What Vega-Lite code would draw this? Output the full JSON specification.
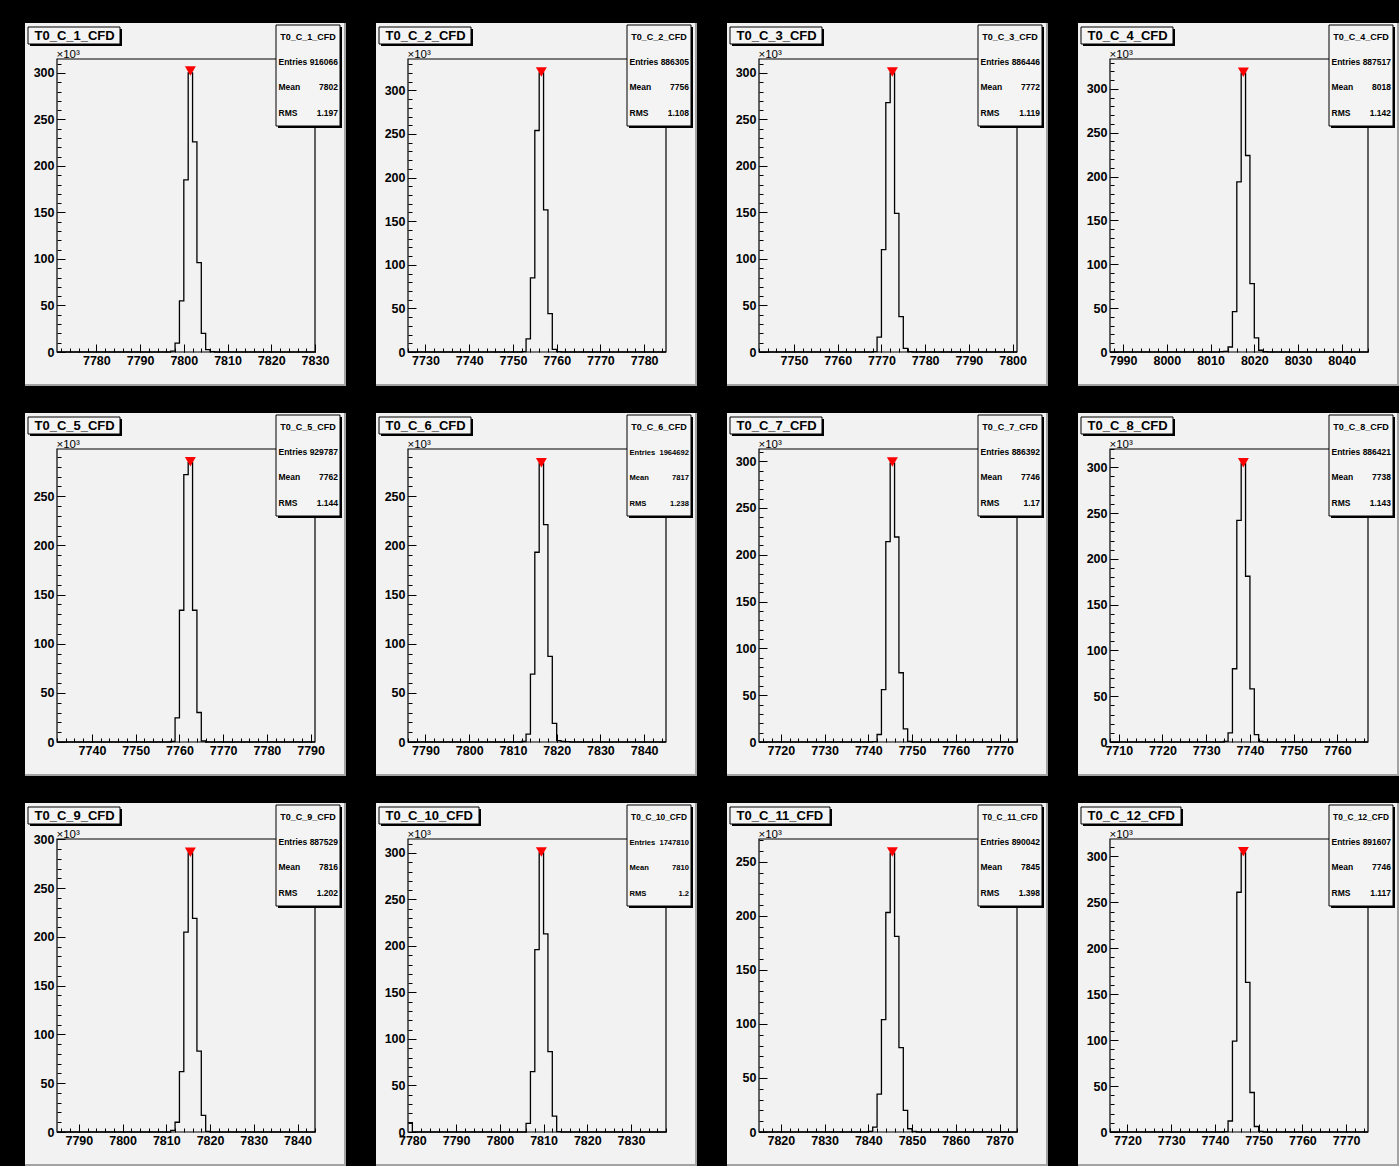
{
"$schema": "https://vega.github.io/schema/vega-lite/v6.json",
"background": "black",
"padding": {"left": 24, "top": 22, "right": 0, "bottom": 0},
"datasets": {
"s1": [{"name": "T0_C_1_CFD", "entries": "916066", "mean": "7802", "rms": "1.197", "px": 7801.5, "py": 302}],
"s2": [{"name": "T0_C_2_CFD", "entries": "886305", "mean": "7756", "rms": "1.108", "px": 7756.5, "py": 321}],
"s3": [{"name": "T0_C_3_CFD", "entries": "886446", "mean": "7772", "rms": "1.119", "px": 7772.5, "py": 301}],
"s4": [{"name": "T0_C_4_CFD", "entries": "887517", "mean": "8018", "rms": "1.142", "px": 8017.5, "py": 319}],
"s5": [{"name": "T0_C_5_CFD", "entries": "929787", "mean": "7762", "rms": "1.144", "px": 7762.5, "py": 285}],
"s6": [{"name": "T0_C_6_CFD", "entries": "1964692", "mean": "7817", "rms": "1.238", "px": 7816.5, "py": 284}],
"s7": [{"name": "T0_C_7_CFD", "entries": "886392", "mean": "7746", "rms": "1.17", "px": 7745.5, "py": 299}],
"s8": [{"name": "T0_C_8_CFD", "entries": "886421", "mean": "7738", "rms": "1.143", "px": 7738.5, "py": 305}],
"s9": [{"name": "T0_C_9_CFD", "entries": "887529", "mean": "7816", "rms": "1.202", "px": 7815.5, "py": 287}],
"s10": [{"name": "T0_C_10_CFD", "entries": "1747810", "mean": "7810", "rms": "1.2", "px": 7809.5, "py": 301}],
"s11": [{"name": "T0_C_11_CFD", "entries": "890042", "mean": "7845", "rms": "1.398", "px": 7845.5, "py": 259}],
"s12": [{"name": "T0_C_12_CFD", "entries": "891607", "mean": "7746", "rms": "1.117", "px": 7746.5, "py": 305}],
"b1": [{"x": 7771, "c": 0}, {"x": 7797, "c": 1}, {"x": 7798, "c": 9.6}, {"x": 7799, "c": 55}, {"x": 7800, "c": 185}, {"x": 7801, "c": 300}, {"x": 7802, "c": 226}, {"x": 7803, "c": 96}, {"x": 7804, "c": 20}, {"x": 7805, "c": 2.5}, {"x": 7806, "c": 0.5}, {"x": 7807, "c": 0}, {"x": 7830, "c": 0}],
"b2": [{"x": 7726, "c": 0}, {"x": 7752, "c": 0.5}, {"x": 7753, "c": 15}, {"x": 7754, "c": 85}, {"x": 7755, "c": 254}, {"x": 7756, "c": 320}, {"x": 7757, "c": 163}, {"x": 7758, "c": 44}, {"x": 7759, "c": 3}, {"x": 7760, "c": 0.5}, {"x": 7761, "c": 0}, {"x": 7785, "c": 0}],
"b3": [{"x": 7742, "c": 0}, {"x": 7768, "c": 0.5}, {"x": 7769, "c": 16}, {"x": 7770, "c": 110}, {"x": 7771, "c": 268}, {"x": 7772, "c": 300}, {"x": 7773, "c": 149}, {"x": 7774, "c": 38}, {"x": 7775, "c": 4}, {"x": 7776, "c": 0.5}, {"x": 7777, "c": 0}, {"x": 7801, "c": 0}],
"b4": [{"x": 7987, "c": 0}, {"x": 8012, "c": 0.5}, {"x": 8013, "c": 0.7}, {"x": 8014, "c": 5.7}, {"x": 8015, "c": 46}, {"x": 8016, "c": 194}, {"x": 8017, "c": 318}, {"x": 8018, "c": 224}, {"x": 8019, "c": 78}, {"x": 8020, "c": 16}, {"x": 8021, "c": 2}, {"x": 8022, "c": 0.3}, {"x": 8023, "c": 0}, {"x": 8046, "c": 0}],
"b5": [{"x": 7732, "c": 0}, {"x": 7758, "c": 0.5}, {"x": 7759, "c": 24.5}, {"x": 7760, "c": 134}, {"x": 7761, "c": 272}, {"x": 7762, "c": 284}, {"x": 7763, "c": 134}, {"x": 7764, "c": 30}, {"x": 7765, "c": 1}, {"x": 7766, "c": 0}, {"x": 7791, "c": 0}],
"b6": [{"x": 7786, "c": 0}, {"x": 7812, "c": 0.5}, {"x": 7813, "c": 8}, {"x": 7814, "c": 69}, {"x": 7815, "c": 193}, {"x": 7816, "c": 283}, {"x": 7817, "c": 221}, {"x": 7818, "c": 87}, {"x": 7819, "c": 19}, {"x": 7820, "c": 1.4}, {"x": 7821, "c": 0.5}, {"x": 7822, "c": 0.3}, {"x": 7823, "c": 0}, {"x": 7845, "c": 0}],
"b7": [{"x": 7715, "c": 0}, {"x": 7741, "c": 0.5}, {"x": 7742, "c": 8}, {"x": 7743, "c": 56}, {"x": 7744, "c": 214}, {"x": 7745, "c": 298}, {"x": 7746, "c": 219}, {"x": 7747, "c": 74}, {"x": 7748, "c": 14}, {"x": 7749, "c": 0.7}, {"x": 7750, "c": 0}, {"x": 7774, "c": 0}],
"b8": [{"x": 7708, "c": 0}, {"x": 7734, "c": 0.7}, {"x": 7735, "c": 10}, {"x": 7736, "c": 80}, {"x": 7737, "c": 242}, {"x": 7738, "c": 304}, {"x": 7739, "c": 181}, {"x": 7740, "c": 58}, {"x": 7741, "c": 8}, {"x": 7742, "c": 0.7}, {"x": 7743, "c": 0}, {"x": 7767, "c": 0}],
"b9": [{"x": 7785, "c": 0}, {"x": 7811, "c": 1.7}, {"x": 7812, "c": 10}, {"x": 7813, "c": 62}, {"x": 7814, "c": 205}, {"x": 7815, "c": 286}, {"x": 7816, "c": 219}, {"x": 7817, "c": 83}, {"x": 7818, "c": 17}, {"x": 7819, "c": 0.7}, {"x": 7820, "c": 0}, {"x": 7844, "c": 0}],
"b10": [{"x": 7779, "c": 10}, {"x": 7780, "c": 0}, {"x": 7806, "c": 9.3}, {"x": 7807, "c": 65}, {"x": 7808, "c": 196}, {"x": 7809, "c": 300}, {"x": 7810, "c": 213}, {"x": 7811, "c": 86.5}, {"x": 7812, "c": 17}, {"x": 7813, "c": 0.5}, {"x": 7814, "c": 0}, {"x": 7838, "c": 0}],
"b11": [{"x": 7815, "c": 0}, {"x": 7840, "c": 0.5}, {"x": 7841, "c": 4.6}, {"x": 7842, "c": 35}, {"x": 7843, "c": 104}, {"x": 7844, "c": 203}, {"x": 7845, "c": 258}, {"x": 7846, "c": 181}, {"x": 7847, "c": 78}, {"x": 7848, "c": 20}, {"x": 7849, "c": 3}, {"x": 7850, "c": 0.5}, {"x": 7851, "c": 0}, {"x": 7874, "c": 0}],
"b12": [{"x": 7716, "c": 0}, {"x": 7742, "c": 0.5}, {"x": 7743, "c": 12}, {"x": 7744, "c": 99}, {"x": 7745, "c": 261}, {"x": 7746, "c": 304}, {"x": 7747, "c": 163}, {"x": 7748, "c": 43}, {"x": 7749, "c": 6}, {"x": 7750, "c": 0.7}, {"x": 7751, "c": 0}, {"x": 7775, "c": 0}]
},
"vconcat": [
{"hconcat": [
{"width": 321, "height": 363, "view": {"fill": "#f2f2f2", "stroke": null}, "data": {"name": "s1"}, "layer": [
{"mark": {"type": "rect", "filled": false, "color": "black", "strokeWidth": 1.2}, "encoding": {"x": {"datum": 7771, "type": "quantitative", "scale": {"domain": [7771, 7830], "range": [32, 290], "nice": false, "zero": false}, "axis": {"orient": "bottom", "offset": -34, "labels": false, "domain": false, "tickSize": -8, "tickCount": 6, "title": null}}, "x2": {"datum": 7830}, "y": {"datum": 0, "type": "quantitative", "scale": {"domain": [0, 315], "range": [329, 36], "nice": false, "zero": false}, "axis": {"orient": "left", "offset": -32, "labels": false, "domain": false, "tickSize": -8, "tickCount": 6, "title": null}}, "y2": {"datum": 315}}},
{"data": {"name": "b1"}, "mark": {"type": "line", "interpolate": "step-after", "color": "black", "strokeWidth": 1.3}, "encoding": {"x": {"field": "x", "type": "quantitative", "axis": {"orient": "bottom", "offset": -34, "labels": false, "domain": false, "tickSize": -4, "tickCount": 30, "title": null}}, "y": {"field": "c", "type": "quantitative", "axis": {"orient": "left", "offset": -32, "labels": false, "domain": false, "tickSize": -4, "tickCount": 30, "title": null}}}},
{"mark": {"type": "point", "shape": "triangle-down", "filled": true, "color": "#ff0000", "opacity": 1, "size": 120}, "encoding": {"x": {"field": "px", "type": "quantitative", "axis": {"orient": "bottom", "offset": -34, "ticks": false, "domain": false, "labelPadding": 2, "tickCount": 6, "format": "d", "title": null}}, "y": {"field": "py", "type": "quantitative", "axis": {"orient": "left", "offset": -32, "ticks": false, "domain": false, "labelPadding": 3, "tickCount": 6, "format": "d", "title": "×10³", "titleAngle": 0, "titleAlign": "left", "titleBaseline": "alphabetic", "titleX": -1, "titleY": 34}}}},
{"mark": {"type": "rect", "x": 5, "x2": 97, "y": 6, "y2": 23, "color": "black"}},
{"mark": {"type": "rect", "x": 3, "x2": 95, "y": 4, "y2": 21, "fill": "#f4f4f4", "stroke": "black", "strokeWidth": 1}},
{"mark": {"type": "text", "x": 9.5, "y": 16.5, "style": "ttl"}, "encoding": {"text": {"field": "name"}}},
{"mark": {"type": "rect", "x": 253, "x2": 317, "y": 4, "y2": 105, "color": "black"}},
{"mark": {"type": "rect", "x": 251, "x2": 315, "y": 2, "y2": 103, "fill": "#f4f4f4", "stroke": "black", "strokeWidth": 1}},
{"mark": {"type": "rule", "x": 251, "x2": 315, "y": 27, "y2": 27, "color": "black", "strokeWidth": 1}, "encoding": {}},
{"mark": {"type": "text", "x": 283, "y": 16.5, "style": "sth"}, "encoding": {"text": {"field": "name"}}},
{"mark": {"type": "text", "x": 253.5, "y": 42, "style": "stl", "text": ["Entries", "Mean", "RMS"]}},
{"mark": {"type": "text", "x": 313, "y": 42, "style": "stv"}, "encoding": {"text": {"field": "entries"}}},
{"mark": {"type": "text", "x": 313, "y": 67.3, "style": "stv"}, "encoding": {"text": {"field": "mean"}}},
{"mark": {"type": "text", "x": 313, "y": 92.6, "style": "stv"}, "encoding": {"text": {"field": "rms"}}},
{"mark": {"type": "rect", "x": 0, "x2": 321, "y": 361, "y2": 363, "color": "#a3a3a3"}},
{"mark": {"type": "rect", "x": 319, "x2": 321, "y": 0, "y2": 363, "color": "#a3a3a3"}}
], "resolve": {"axis": {"x": "independent", "y": "independent"}}},
{"width": 321, "height": 363, "view": {"fill": "#f2f2f2", "stroke": null}, "data": {"name": "s2"}, "layer": [
{"mark": {"type": "rect", "filled": false, "color": "black", "strokeWidth": 1.2}, "encoding": {"x": {"datum": 7726, "type": "quantitative", "scale": {"domain": [7726, 7785], "range": [32, 290], "nice": false, "zero": false}, "axis": {"orient": "bottom", "offset": -34, "labels": false, "domain": false, "tickSize": -8, "tickCount": 6, "title": null}}, "x2": {"datum": 7785}, "y": {"datum": 0, "type": "quantitative", "scale": {"domain": [0, 336], "range": [329, 36], "nice": false, "zero": false}, "axis": {"orient": "left", "offset": -32, "labels": false, "domain": false, "tickSize": -8, "tickCount": 6, "title": null}}, "y2": {"datum": 336}}},
{"data": {"name": "b2"}, "mark": {"type": "line", "interpolate": "step-after", "color": "black", "strokeWidth": 1.3}, "encoding": {"x": {"field": "x", "type": "quantitative", "axis": {"orient": "bottom", "offset": -34, "labels": false, "domain": false, "tickSize": -4, "tickCount": 30, "title": null}}, "y": {"field": "c", "type": "quantitative", "axis": {"orient": "left", "offset": -32, "labels": false, "domain": false, "tickSize": -4, "tickCount": 30, "title": null}}}},
{"mark": {"type": "point", "shape": "triangle-down", "filled": true, "color": "#ff0000", "opacity": 1, "size": 120}, "encoding": {"x": {"field": "px", "type": "quantitative", "axis": {"orient": "bottom", "offset": -34, "ticks": false, "domain": false, "labelPadding": 2, "tickCount": 6, "format": "d", "title": null}}, "y": {"field": "py", "type": "quantitative", "axis": {"orient": "left", "offset": -32, "ticks": false, "domain": false, "labelPadding": 3, "tickCount": 6, "format": "d", "title": "×10³", "titleAngle": 0, "titleAlign": "left", "titleBaseline": "alphabetic", "titleX": -1, "titleY": 34}}}},
{"mark": {"type": "rect", "x": 5, "x2": 97, "y": 6, "y2": 23, "color": "black"}},
{"mark": {"type": "rect", "x": 3, "x2": 95, "y": 4, "y2": 21, "fill": "#f4f4f4", "stroke": "black", "strokeWidth": 1}},
{"mark": {"type": "text", "x": 9.5, "y": 16.5, "style": "ttl"}, "encoding": {"text": {"field": "name"}}},
{"mark": {"type": "rect", "x": 253, "x2": 317, "y": 4, "y2": 105, "color": "black"}},
{"mark": {"type": "rect", "x": 251, "x2": 315, "y": 2, "y2": 103, "fill": "#f4f4f4", "stroke": "black", "strokeWidth": 1}},
{"mark": {"type": "rule", "x": 251, "x2": 315, "y": 27, "y2": 27, "color": "black", "strokeWidth": 1}, "encoding": {}},
{"mark": {"type": "text", "x": 283, "y": 16.5, "style": "sth"}, "encoding": {"text": {"field": "name"}}},
{"mark": {"type": "text", "x": 253.5, "y": 42, "style": "stl", "text": ["Entries", "Mean", "RMS"]}},
{"mark": {"type": "text", "x": 313, "y": 42, "style": "stv"}, "encoding": {"text": {"field": "entries"}}},
{"mark": {"type": "text", "x": 313, "y": 67.3, "style": "stv"}, "encoding": {"text": {"field": "mean"}}},
{"mark": {"type": "text", "x": 313, "y": 92.6, "style": "stv"}, "encoding": {"text": {"field": "rms"}}},
{"mark": {"type": "rect", "x": 0, "x2": 321, "y": 361, "y2": 363, "color": "#a3a3a3"}},
{"mark": {"type": "rect", "x": 319, "x2": 321, "y": 0, "y2": 363, "color": "#a3a3a3"}}
], "resolve": {"axis": {"x": "independent", "y": "independent"}}},
{"width": 321, "height": 363, "view": {"fill": "#f2f2f2", "stroke": null}, "data": {"name": "s3"}, "layer": [
{"mark": {"type": "rect", "filled": false, "color": "black", "strokeWidth": 1.2}, "encoding": {"x": {"datum": 7742, "type": "quantitative", "scale": {"domain": [7742, 7801], "range": [32, 290], "nice": false, "zero": false}, "axis": {"orient": "bottom", "offset": -34, "labels": false, "domain": false, "tickSize": -8, "tickCount": 6, "title": null}}, "x2": {"datum": 7801}, "y": {"datum": 0, "type": "quantitative", "scale": {"domain": [0, 315], "range": [329, 36], "nice": false, "zero": false}, "axis": {"orient": "left", "offset": -32, "labels": false, "domain": false, "tickSize": -8, "tickCount": 6, "title": null}}, "y2": {"datum": 315}}},
{"data": {"name": "b3"}, "mark": {"type": "line", "interpolate": "step-after", "color": "black", "strokeWidth": 1.3}, "encoding": {"x": {"field": "x", "type": "quantitative", "axis": {"orient": "bottom", "offset": -34, "labels": false, "domain": false, "tickSize": -4, "tickCount": 30, "title": null}}, "y": {"field": "c", "type": "quantitative", "axis": {"orient": "left", "offset": -32, "labels": false, "domain": false, "tickSize": -4, "tickCount": 30, "title": null}}}},
{"mark": {"type": "point", "shape": "triangle-down", "filled": true, "color": "#ff0000", "opacity": 1, "size": 120}, "encoding": {"x": {"field": "px", "type": "quantitative", "axis": {"orient": "bottom", "offset": -34, "ticks": false, "domain": false, "labelPadding": 2, "tickCount": 6, "format": "d", "title": null}}, "y": {"field": "py", "type": "quantitative", "axis": {"orient": "left", "offset": -32, "ticks": false, "domain": false, "labelPadding": 3, "tickCount": 6, "format": "d", "title": "×10³", "titleAngle": 0, "titleAlign": "left", "titleBaseline": "alphabetic", "titleX": -1, "titleY": 34}}}},
{"mark": {"type": "rect", "x": 5, "x2": 97, "y": 6, "y2": 23, "color": "black"}},
{"mark": {"type": "rect", "x": 3, "x2": 95, "y": 4, "y2": 21, "fill": "#f4f4f4", "stroke": "black", "strokeWidth": 1}},
{"mark": {"type": "text", "x": 9.5, "y": 16.5, "style": "ttl"}, "encoding": {"text": {"field": "name"}}},
{"mark": {"type": "rect", "x": 253, "x2": 317, "y": 4, "y2": 105, "color": "black"}},
{"mark": {"type": "rect", "x": 251, "x2": 315, "y": 2, "y2": 103, "fill": "#f4f4f4", "stroke": "black", "strokeWidth": 1}},
{"mark": {"type": "rule", "x": 251, "x2": 315, "y": 27, "y2": 27, "color": "black", "strokeWidth": 1}, "encoding": {}},
{"mark": {"type": "text", "x": 283, "y": 16.5, "style": "sth"}, "encoding": {"text": {"field": "name"}}},
{"mark": {"type": "text", "x": 253.5, "y": 42, "style": "stl", "text": ["Entries", "Mean", "RMS"]}},
{"mark": {"type": "text", "x": 313, "y": 42, "style": "stv"}, "encoding": {"text": {"field": "entries"}}},
{"mark": {"type": "text", "x": 313, "y": 67.3, "style": "stv"}, "encoding": {"text": {"field": "mean"}}},
{"mark": {"type": "text", "x": 313, "y": 92.6, "style": "stv"}, "encoding": {"text": {"field": "rms"}}},
{"mark": {"type": "rect", "x": 0, "x2": 321, "y": 361, "y2": 363, "color": "#a3a3a3"}},
{"mark": {"type": "rect", "x": 319, "x2": 321, "y": 0, "y2": 363, "color": "#a3a3a3"}}
], "resolve": {"axis": {"x": "independent", "y": "independent"}}},
{"width": 321, "height": 363, "view": {"fill": "#f2f2f2", "stroke": null}, "data": {"name": "s4"}, "layer": [
{"mark": {"type": "rect", "filled": false, "color": "black", "strokeWidth": 1.2}, "encoding": {"x": {"datum": 7987, "type": "quantitative", "scale": {"domain": [7987, 8046], "range": [32, 290], "nice": false, "zero": false}, "axis": {"orient": "bottom", "offset": -34, "labels": false, "domain": false, "tickSize": -8, "tickCount": 6, "title": null}}, "x2": {"datum": 8046}, "y": {"datum": 0, "type": "quantitative", "scale": {"domain": [0, 334], "range": [329, 36], "nice": false, "zero": false}, "axis": {"orient": "left", "offset": -32, "labels": false, "domain": false, "tickSize": -8, "tickCount": 6, "title": null}}, "y2": {"datum": 334}}},
{"data": {"name": "b4"}, "mark": {"type": "line", "interpolate": "step-after", "color": "black", "strokeWidth": 1.3}, "encoding": {"x": {"field": "x", "type": "quantitative", "axis": {"orient": "bottom", "offset": -34, "labels": false, "domain": false, "tickSize": -4, "tickCount": 30, "title": null}}, "y": {"field": "c", "type": "quantitative", "axis": {"orient": "left", "offset": -32, "labels": false, "domain": false, "tickSize": -4, "tickCount": 30, "title": null}}}},
{"mark": {"type": "point", "shape": "triangle-down", "filled": true, "color": "#ff0000", "opacity": 1, "size": 120}, "encoding": {"x": {"field": "px", "type": "quantitative", "axis": {"orient": "bottom", "offset": -34, "ticks": false, "domain": false, "labelPadding": 2, "tickCount": 6, "format": "d", "title": null}}, "y": {"field": "py", "type": "quantitative", "axis": {"orient": "left", "offset": -32, "ticks": false, "domain": false, "labelPadding": 3, "tickCount": 6, "format": "d", "title": "×10³", "titleAngle": 0, "titleAlign": "left", "titleBaseline": "alphabetic", "titleX": -1, "titleY": 34}}}},
{"mark": {"type": "rect", "x": 5, "x2": 97, "y": 6, "y2": 23, "color": "black"}},
{"mark": {"type": "rect", "x": 3, "x2": 95, "y": 4, "y2": 21, "fill": "#f4f4f4", "stroke": "black", "strokeWidth": 1}},
{"mark": {"type": "text", "x": 9.5, "y": 16.5, "style": "ttl"}, "encoding": {"text": {"field": "name"}}},
{"mark": {"type": "rect", "x": 253, "x2": 317, "y": 4, "y2": 105, "color": "black"}},
{"mark": {"type": "rect", "x": 251, "x2": 315, "y": 2, "y2": 103, "fill": "#f4f4f4", "stroke": "black", "strokeWidth": 1}},
{"mark": {"type": "rule", "x": 251, "x2": 315, "y": 27, "y2": 27, "color": "black", "strokeWidth": 1}, "encoding": {}},
{"mark": {"type": "text", "x": 283, "y": 16.5, "style": "sth"}, "encoding": {"text": {"field": "name"}}},
{"mark": {"type": "text", "x": 253.5, "y": 42, "style": "stl", "text": ["Entries", "Mean", "RMS"]}},
{"mark": {"type": "text", "x": 313, "y": 42, "style": "stv"}, "encoding": {"text": {"field": "entries"}}},
{"mark": {"type": "text", "x": 313, "y": 67.3, "style": "stv"}, "encoding": {"text": {"field": "mean"}}},
{"mark": {"type": "text", "x": 313, "y": 92.6, "style": "stv"}, "encoding": {"text": {"field": "rms"}}},
{"mark": {"type": "rect", "x": 0, "x2": 321, "y": 361, "y2": 363, "color": "#a3a3a3"}},
{"mark": {"type": "rect", "x": 319, "x2": 321, "y": 0, "y2": 363, "color": "#a3a3a3"}}
], "resolve": {"axis": {"x": "independent", "y": "independent"}}}
], "spacing": 29},
{"hconcat": [
{"width": 321, "height": 363, "view": {"fill": "#f2f2f2", "stroke": null}, "data": {"name": "s5"}, "layer": [
{"mark": {"type": "rect", "filled": false, "color": "black", "strokeWidth": 1.2}, "encoding": {"x": {"datum": 7732, "type": "quantitative", "scale": {"domain": [7732, 7791], "range": [32, 290], "nice": false, "zero": false}, "axis": {"orient": "bottom", "offset": -34, "labels": false, "domain": false, "tickSize": -8, "tickCount": 6, "title": null}}, "x2": {"datum": 7791}, "y": {"datum": 0, "type": "quantitative", "scale": {"domain": [0, 298], "range": [329, 36], "nice": false, "zero": false}, "axis": {"orient": "left", "offset": -32, "labels": false, "domain": false, "tickSize": -8, "tickCount": 6, "title": null}}, "y2": {"datum": 298}}},
{"data": {"name": "b5"}, "mark": {"type": "line", "interpolate": "step-after", "color": "black", "strokeWidth": 1.3}, "encoding": {"x": {"field": "x", "type": "quantitative", "axis": {"orient": "bottom", "offset": -34, "labels": false, "domain": false, "tickSize": -4, "tickCount": 30, "title": null}}, "y": {"field": "c", "type": "quantitative", "axis": {"orient": "left", "offset": -32, "labels": false, "domain": false, "tickSize": -4, "tickCount": 30, "title": null}}}},
{"mark": {"type": "point", "shape": "triangle-down", "filled": true, "color": "#ff0000", "opacity": 1, "size": 120}, "encoding": {"x": {"field": "px", "type": "quantitative", "axis": {"orient": "bottom", "offset": -34, "ticks": false, "domain": false, "labelPadding": 2, "tickCount": 6, "format": "d", "title": null}}, "y": {"field": "py", "type": "quantitative", "axis": {"orient": "left", "offset": -32, "ticks": false, "domain": false, "labelPadding": 3, "tickCount": 6, "format": "d", "title": "×10³", "titleAngle": 0, "titleAlign": "left", "titleBaseline": "alphabetic", "titleX": -1, "titleY": 34}}}},
{"mark": {"type": "rect", "x": 5, "x2": 97, "y": 6, "y2": 23, "color": "black"}},
{"mark": {"type": "rect", "x": 3, "x2": 95, "y": 4, "y2": 21, "fill": "#f4f4f4", "stroke": "black", "strokeWidth": 1}},
{"mark": {"type": "text", "x": 9.5, "y": 16.5, "style": "ttl"}, "encoding": {"text": {"field": "name"}}},
{"mark": {"type": "rect", "x": 253, "x2": 317, "y": 4, "y2": 105, "color": "black"}},
{"mark": {"type": "rect", "x": 251, "x2": 315, "y": 2, "y2": 103, "fill": "#f4f4f4", "stroke": "black", "strokeWidth": 1}},
{"mark": {"type": "rule", "x": 251, "x2": 315, "y": 27, "y2": 27, "color": "black", "strokeWidth": 1}, "encoding": {}},
{"mark": {"type": "text", "x": 283, "y": 16.5, "style": "sth"}, "encoding": {"text": {"field": "name"}}},
{"mark": {"type": "text", "x": 253.5, "y": 42, "style": "stl", "text": ["Entries", "Mean", "RMS"]}},
{"mark": {"type": "text", "x": 313, "y": 42, "style": "stv"}, "encoding": {"text": {"field": "entries"}}},
{"mark": {"type": "text", "x": 313, "y": 67.3, "style": "stv"}, "encoding": {"text": {"field": "mean"}}},
{"mark": {"type": "text", "x": 313, "y": 92.6, "style": "stv"}, "encoding": {"text": {"field": "rms"}}},
{"mark": {"type": "rect", "x": 0, "x2": 321, "y": 361, "y2": 363, "color": "#a3a3a3"}},
{"mark": {"type": "rect", "x": 319, "x2": 321, "y": 0, "y2": 363, "color": "#a3a3a3"}}
], "resolve": {"axis": {"x": "independent", "y": "independent"}}},
{"width": 321, "height": 363, "view": {"fill": "#f2f2f2", "stroke": null}, "data": {"name": "s6"}, "layer": [
{"mark": {"type": "rect", "filled": false, "color": "black", "strokeWidth": 1.2}, "encoding": {"x": {"datum": 7786, "type": "quantitative", "scale": {"domain": [7786, 7845], "range": [32, 290], "nice": false, "zero": false}, "axis": {"orient": "bottom", "offset": -34, "labels": false, "domain": false, "tickSize": -8, "tickCount": 6, "title": null}}, "x2": {"datum": 7845}, "y": {"datum": 0, "type": "quantitative", "scale": {"domain": [0, 298], "range": [329, 36], "nice": false, "zero": false}, "axis": {"orient": "left", "offset": -32, "labels": false, "domain": false, "tickSize": -8, "tickCount": 6, "title": null}}, "y2": {"datum": 298}}},
{"data": {"name": "b6"}, "mark": {"type": "line", "interpolate": "step-after", "color": "black", "strokeWidth": 1.3}, "encoding": {"x": {"field": "x", "type": "quantitative", "axis": {"orient": "bottom", "offset": -34, "labels": false, "domain": false, "tickSize": -4, "tickCount": 30, "title": null}}, "y": {"field": "c", "type": "quantitative", "axis": {"orient": "left", "offset": -32, "labels": false, "domain": false, "tickSize": -4, "tickCount": 30, "title": null}}}},
{"mark": {"type": "point", "shape": "triangle-down", "filled": true, "color": "#ff0000", "opacity": 1, "size": 120}, "encoding": {"x": {"field": "px", "type": "quantitative", "axis": {"orient": "bottom", "offset": -34, "ticks": false, "domain": false, "labelPadding": 2, "tickCount": 6, "format": "d", "title": null}}, "y": {"field": "py", "type": "quantitative", "axis": {"orient": "left", "offset": -32, "ticks": false, "domain": false, "labelPadding": 3, "tickCount": 6, "format": "d", "title": "×10³", "titleAngle": 0, "titleAlign": "left", "titleBaseline": "alphabetic", "titleX": -1, "titleY": 34}}}},
{"mark": {"type": "rect", "x": 5, "x2": 97, "y": 6, "y2": 23, "color": "black"}},
{"mark": {"type": "rect", "x": 3, "x2": 95, "y": 4, "y2": 21, "fill": "#f4f4f4", "stroke": "black", "strokeWidth": 1}},
{"mark": {"type": "text", "x": 9.5, "y": 16.5, "style": "ttl"}, "encoding": {"text": {"field": "name"}}},
{"mark": {"type": "rect", "x": 253, "x2": 317, "y": 4, "y2": 105, "color": "black"}},
{"mark": {"type": "rect", "x": 251, "x2": 315, "y": 2, "y2": 103, "fill": "#f4f4f4", "stroke": "black", "strokeWidth": 1}},
{"mark": {"type": "rule", "x": 251, "x2": 315, "y": 27, "y2": 27, "color": "black", "strokeWidth": 1}, "encoding": {}},
{"mark": {"type": "text", "x": 283, "y": 16.5, "style": "sth"}, "encoding": {"text": {"field": "name"}}},
{"mark": {"type": "text", "x": 253.5, "y": 42, "style": "stl", "fontSize": 7.6, "text": ["Entries", "Mean", "RMS"]}},
{"mark": {"type": "text", "x": 313, "y": 42, "style": "stv", "fontSize": 7.6}, "encoding": {"text": {"field": "entries"}}},
{"mark": {"type": "text", "x": 313, "y": 67.3, "style": "stv", "fontSize": 7.6}, "encoding": {"text": {"field": "mean"}}},
{"mark": {"type": "text", "x": 313, "y": 92.6, "style": "stv", "fontSize": 7.6}, "encoding": {"text": {"field": "rms"}}},
{"mark": {"type": "rect", "x": 0, "x2": 321, "y": 361, "y2": 363, "color": "#a3a3a3"}},
{"mark": {"type": "rect", "x": 319, "x2": 321, "y": 0, "y2": 363, "color": "#a3a3a3"}}
], "resolve": {"axis": {"x": "independent", "y": "independent"}}},
{"width": 321, "height": 363, "view": {"fill": "#f2f2f2", "stroke": null}, "data": {"name": "s7"}, "layer": [
{"mark": {"type": "rect", "filled": false, "color": "black", "strokeWidth": 1.2}, "encoding": {"x": {"datum": 7715, "type": "quantitative", "scale": {"domain": [7715, 7774], "range": [32, 290], "nice": false, "zero": false}, "axis": {"orient": "bottom", "offset": -34, "labels": false, "domain": false, "tickSize": -8, "tickCount": 6, "title": null}}, "x2": {"datum": 7774}, "y": {"datum": 0, "type": "quantitative", "scale": {"domain": [0, 313], "range": [329, 36], "nice": false, "zero": false}, "axis": {"orient": "left", "offset": -32, "labels": false, "domain": false, "tickSize": -8, "tickCount": 6, "title": null}}, "y2": {"datum": 313}}},
{"data": {"name": "b7"}, "mark": {"type": "line", "interpolate": "step-after", "color": "black", "strokeWidth": 1.3}, "encoding": {"x": {"field": "x", "type": "quantitative", "axis": {"orient": "bottom", "offset": -34, "labels": false, "domain": false, "tickSize": -4, "tickCount": 30, "title": null}}, "y": {"field": "c", "type": "quantitative", "axis": {"orient": "left", "offset": -32, "labels": false, "domain": false, "tickSize": -4, "tickCount": 30, "title": null}}}},
{"mark": {"type": "point", "shape": "triangle-down", "filled": true, "color": "#ff0000", "opacity": 1, "size": 120}, "encoding": {"x": {"field": "px", "type": "quantitative", "axis": {"orient": "bottom", "offset": -34, "ticks": false, "domain": false, "labelPadding": 2, "tickCount": 6, "format": "d", "title": null}}, "y": {"field": "py", "type": "quantitative", "axis": {"orient": "left", "offset": -32, "ticks": false, "domain": false, "labelPadding": 3, "tickCount": 6, "format": "d", "title": "×10³", "titleAngle": 0, "titleAlign": "left", "titleBaseline": "alphabetic", "titleX": -1, "titleY": 34}}}},
{"mark": {"type": "rect", "x": 5, "x2": 97, "y": 6, "y2": 23, "color": "black"}},
{"mark": {"type": "rect", "x": 3, "x2": 95, "y": 4, "y2": 21, "fill": "#f4f4f4", "stroke": "black", "strokeWidth": 1}},
{"mark": {"type": "text", "x": 9.5, "y": 16.5, "style": "ttl"}, "encoding": {"text": {"field": "name"}}},
{"mark": {"type": "rect", "x": 253, "x2": 317, "y": 4, "y2": 105, "color": "black"}},
{"mark": {"type": "rect", "x": 251, "x2": 315, "y": 2, "y2": 103, "fill": "#f4f4f4", "stroke": "black", "strokeWidth": 1}},
{"mark": {"type": "rule", "x": 251, "x2": 315, "y": 27, "y2": 27, "color": "black", "strokeWidth": 1}, "encoding": {}},
{"mark": {"type": "text", "x": 283, "y": 16.5, "style": "sth"}, "encoding": {"text": {"field": "name"}}},
{"mark": {"type": "text", "x": 253.5, "y": 42, "style": "stl", "text": ["Entries", "Mean", "RMS"]}},
{"mark": {"type": "text", "x": 313, "y": 42, "style": "stv"}, "encoding": {"text": {"field": "entries"}}},
{"mark": {"type": "text", "x": 313, "y": 67.3, "style": "stv"}, "encoding": {"text": {"field": "mean"}}},
{"mark": {"type": "text", "x": 313, "y": 92.6, "style": "stv"}, "encoding": {"text": {"field": "rms"}}},
{"mark": {"type": "rect", "x": 0, "x2": 321, "y": 361, "y2": 363, "color": "#a3a3a3"}},
{"mark": {"type": "rect", "x": 319, "x2": 321, "y": 0, "y2": 363, "color": "#a3a3a3"}}
], "resolve": {"axis": {"x": "independent", "y": "independent"}}},
{"width": 321, "height": 363, "view": {"fill": "#f2f2f2", "stroke": null}, "data": {"name": "s8"}, "layer": [
{"mark": {"type": "rect", "filled": false, "color": "black", "strokeWidth": 1.2}, "encoding": {"x": {"datum": 7708, "type": "quantitative", "scale": {"domain": [7708, 7767], "range": [32, 290], "nice": false, "zero": false}, "axis": {"orient": "bottom", "offset": -34, "labels": false, "domain": false, "tickSize": -8, "tickCount": 6, "title": null}}, "x2": {"datum": 7767}, "y": {"datum": 0, "type": "quantitative", "scale": {"domain": [0, 320], "range": [329, 36], "nice": false, "zero": false}, "axis": {"orient": "left", "offset": -32, "labels": false, "domain": false, "tickSize": -8, "tickCount": 6, "title": null}}, "y2": {"datum": 320}}},
{"data": {"name": "b8"}, "mark": {"type": "line", "interpolate": "step-after", "color": "black", "strokeWidth": 1.3}, "encoding": {"x": {"field": "x", "type": "quantitative", "axis": {"orient": "bottom", "offset": -34, "labels": false, "domain": false, "tickSize": -4, "tickCount": 30, "title": null}}, "y": {"field": "c", "type": "quantitative", "axis": {"orient": "left", "offset": -32, "labels": false, "domain": false, "tickSize": -4, "tickCount": 30, "title": null}}}},
{"mark": {"type": "point", "shape": "triangle-down", "filled": true, "color": "#ff0000", "opacity": 1, "size": 120}, "encoding": {"x": {"field": "px", "type": "quantitative", "axis": {"orient": "bottom", "offset": -34, "ticks": false, "domain": false, "labelPadding": 2, "tickCount": 6, "format": "d", "title": null}}, "y": {"field": "py", "type": "quantitative", "axis": {"orient": "left", "offset": -32, "ticks": false, "domain": false, "labelPadding": 3, "tickCount": 6, "format": "d", "title": "×10³", "titleAngle": 0, "titleAlign": "left", "titleBaseline": "alphabetic", "titleX": -1, "titleY": 34}}}},
{"mark": {"type": "rect", "x": 5, "x2": 97, "y": 6, "y2": 23, "color": "black"}},
{"mark": {"type": "rect", "x": 3, "x2": 95, "y": 4, "y2": 21, "fill": "#f4f4f4", "stroke": "black", "strokeWidth": 1}},
{"mark": {"type": "text", "x": 9.5, "y": 16.5, "style": "ttl"}, "encoding": {"text": {"field": "name"}}},
{"mark": {"type": "rect", "x": 253, "x2": 317, "y": 4, "y2": 105, "color": "black"}},
{"mark": {"type": "rect", "x": 251, "x2": 315, "y": 2, "y2": 103, "fill": "#f4f4f4", "stroke": "black", "strokeWidth": 1}},
{"mark": {"type": "rule", "x": 251, "x2": 315, "y": 27, "y2": 27, "color": "black", "strokeWidth": 1}, "encoding": {}},
{"mark": {"type": "text", "x": 283, "y": 16.5, "style": "sth"}, "encoding": {"text": {"field": "name"}}},
{"mark": {"type": "text", "x": 253.5, "y": 42, "style": "stl", "text": ["Entries", "Mean", "RMS"]}},
{"mark": {"type": "text", "x": 313, "y": 42, "style": "stv"}, "encoding": {"text": {"field": "entries"}}},
{"mark": {"type": "text", "x": 313, "y": 67.3, "style": "stv"}, "encoding": {"text": {"field": "mean"}}},
{"mark": {"type": "text", "x": 313, "y": 92.6, "style": "stv"}, "encoding": {"text": {"field": "rms"}}},
{"mark": {"type": "rect", "x": 0, "x2": 321, "y": 361, "y2": 363, "color": "#a3a3a3"}},
{"mark": {"type": "rect", "x": 319, "x2": 321, "y": 0, "y2": 363, "color": "#a3a3a3"}}
], "resolve": {"axis": {"x": "independent", "y": "independent"}}}
], "spacing": 29},
{"hconcat": [
{"width": 321, "height": 363, "view": {"fill": "#f2f2f2", "stroke": null}, "data": {"name": "s9"}, "layer": [
{"mark": {"type": "rect", "filled": false, "color": "black", "strokeWidth": 1.2}, "encoding": {"x": {"datum": 7785, "type": "quantitative", "scale": {"domain": [7785, 7844], "range": [32, 290], "nice": false, "zero": false}, "axis": {"orient": "bottom", "offset": -34, "labels": false, "domain": false, "tickSize": -8, "tickCount": 6, "title": null}}, "x2": {"datum": 7844}, "y": {"datum": 0, "type": "quantitative", "scale": {"domain": [0, 300.5], "range": [329, 36], "nice": false, "zero": false}, "axis": {"orient": "left", "offset": -32, "labels": false, "domain": false, "tickSize": -8, "tickCount": 6, "title": null}}, "y2": {"datum": 300.5}}},
{"data": {"name": "b9"}, "mark": {"type": "line", "interpolate": "step-after", "color": "black", "strokeWidth": 1.3}, "encoding": {"x": {"field": "x", "type": "quantitative", "axis": {"orient": "bottom", "offset": -34, "labels": false, "domain": false, "tickSize": -4, "tickCount": 30, "title": null}}, "y": {"field": "c", "type": "quantitative", "axis": {"orient": "left", "offset": -32, "labels": false, "domain": false, "tickSize": -4, "tickCount": 30, "title": null}}}},
{"mark": {"type": "point", "shape": "triangle-down", "filled": true, "color": "#ff0000", "opacity": 1, "size": 120}, "encoding": {"x": {"field": "px", "type": "quantitative", "axis": {"orient": "bottom", "offset": -34, "ticks": false, "domain": false, "labelPadding": 2, "tickCount": 6, "format": "d", "title": null}}, "y": {"field": "py", "type": "quantitative", "axis": {"orient": "left", "offset": -32, "ticks": false, "domain": false, "labelPadding": 3, "tickCount": 6, "format": "d", "title": "×10³", "titleAngle": 0, "titleAlign": "left", "titleBaseline": "alphabetic", "titleX": -1, "titleY": 34}}}},
{"mark": {"type": "rect", "x": 5, "x2": 97, "y": 6, "y2": 23, "color": "black"}},
{"mark": {"type": "rect", "x": 3, "x2": 95, "y": 4, "y2": 21, "fill": "#f4f4f4", "stroke": "black", "strokeWidth": 1}},
{"mark": {"type": "text", "x": 9.5, "y": 16.5, "style": "ttl"}, "encoding": {"text": {"field": "name"}}},
{"mark": {"type": "rect", "x": 253, "x2": 317, "y": 4, "y2": 105, "color": "black"}},
{"mark": {"type": "rect", "x": 251, "x2": 315, "y": 2, "y2": 103, "fill": "#f4f4f4", "stroke": "black", "strokeWidth": 1}},
{"mark": {"type": "rule", "x": 251, "x2": 315, "y": 27, "y2": 27, "color": "black", "strokeWidth": 1}, "encoding": {}},
{"mark": {"type": "text", "x": 283, "y": 16.5, "style": "sth"}, "encoding": {"text": {"field": "name"}}},
{"mark": {"type": "text", "x": 253.5, "y": 42, "style": "stl", "text": ["Entries", "Mean", "RMS"]}},
{"mark": {"type": "text", "x": 313, "y": 42, "style": "stv"}, "encoding": {"text": {"field": "entries"}}},
{"mark": {"type": "text", "x": 313, "y": 67.3, "style": "stv"}, "encoding": {"text": {"field": "mean"}}},
{"mark": {"type": "text", "x": 313, "y": 92.6, "style": "stv"}, "encoding": {"text": {"field": "rms"}}},
{"mark": {"type": "rect", "x": 0, "x2": 321, "y": 361, "y2": 363, "color": "#a3a3a3"}},
{"mark": {"type": "rect", "x": 319, "x2": 321, "y": 0, "y2": 363, "color": "#a3a3a3"}}
], "resolve": {"axis": {"x": "independent", "y": "independent"}}},
{"width": 321, "height": 363, "view": {"fill": "#f2f2f2", "stroke": null}, "data": {"name": "s10"}, "layer": [
{"mark": {"type": "rect", "filled": false, "color": "black", "strokeWidth": 1.2}, "encoding": {"x": {"datum": 7779, "type": "quantitative", "scale": {"domain": [7779, 7838], "range": [32, 290], "nice": false, "zero": false}, "axis": {"orient": "bottom", "offset": -34, "labels": false, "domain": false, "tickSize": -8, "tickCount": 6, "title": null}}, "x2": {"datum": 7838}, "y": {"datum": 0, "type": "quantitative", "scale": {"domain": [0, 315], "range": [329, 36], "nice": false, "zero": false}, "axis": {"orient": "left", "offset": -32, "labels": false, "domain": false, "tickSize": -8, "tickCount": 6, "title": null}}, "y2": {"datum": 315}}},
{"data": {"name": "b10"}, "mark": {"type": "line", "interpolate": "step-after", "color": "black", "strokeWidth": 1.3}, "encoding": {"x": {"field": "x", "type": "quantitative", "axis": {"orient": "bottom", "offset": -34, "labels": false, "domain": false, "tickSize": -4, "tickCount": 30, "title": null}}, "y": {"field": "c", "type": "quantitative", "axis": {"orient": "left", "offset": -32, "labels": false, "domain": false, "tickSize": -4, "tickCount": 30, "title": null}}}},
{"mark": {"type": "point", "shape": "triangle-down", "filled": true, "color": "#ff0000", "opacity": 1, "size": 120}, "encoding": {"x": {"field": "px", "type": "quantitative", "axis": {"orient": "bottom", "offset": -34, "ticks": false, "domain": false, "labelPadding": 2, "tickCount": 6, "format": "d", "title": null}}, "y": {"field": "py", "type": "quantitative", "axis": {"orient": "left", "offset": -32, "ticks": false, "domain": false, "labelPadding": 3, "tickCount": 6, "format": "d", "title": "×10³", "titleAngle": 0, "titleAlign": "left", "titleBaseline": "alphabetic", "titleX": -1, "titleY": 34}}}},
{"mark": {"type": "rect", "x": 5, "x2": 105, "y": 6, "y2": 23, "color": "black"}},
{"mark": {"type": "rect", "x": 3, "x2": 103, "y": 4, "y2": 21, "fill": "#f4f4f4", "stroke": "black", "strokeWidth": 1}},
{"mark": {"type": "text", "x": 9.5, "y": 16.5, "style": "ttl"}, "encoding": {"text": {"field": "name"}}},
{"mark": {"type": "rect", "x": 253, "x2": 317, "y": 4, "y2": 105, "color": "black"}},
{"mark": {"type": "rect", "x": 251, "x2": 315, "y": 2, "y2": 103, "fill": "#f4f4f4", "stroke": "black", "strokeWidth": 1}},
{"mark": {"type": "rule", "x": 251, "x2": 315, "y": 27, "y2": 27, "color": "black", "strokeWidth": 1}, "encoding": {}},
{"mark": {"type": "text", "x": 283, "y": 16.5, "style": "sth", "fontSize": 8.3}, "encoding": {"text": {"field": "name"}}},
{"mark": {"type": "text", "x": 253.5, "y": 42, "style": "stl", "fontSize": 7.6, "text": ["Entries", "Mean", "RMS"]}},
{"mark": {"type": "text", "x": 313, "y": 42, "style": "stv", "fontSize": 7.6}, "encoding": {"text": {"field": "entries"}}},
{"mark": {"type": "text", "x": 313, "y": 67.3, "style": "stv", "fontSize": 7.6}, "encoding": {"text": {"field": "mean"}}},
{"mark": {"type": "text", "x": 313, "y": 92.6, "style": "stv", "fontSize": 7.6}, "encoding": {"text": {"field": "rms"}}},
{"mark": {"type": "rect", "x": 0, "x2": 321, "y": 361, "y2": 363, "color": "#a3a3a3"}},
{"mark": {"type": "rect", "x": 319, "x2": 321, "y": 0, "y2": 363, "color": "#a3a3a3"}}
], "resolve": {"axis": {"x": "independent", "y": "independent"}}},
{"width": 321, "height": 363, "view": {"fill": "#f2f2f2", "stroke": null}, "data": {"name": "s11"}, "layer": [
{"mark": {"type": "rect", "filled": false, "color": "black", "strokeWidth": 1.2}, "encoding": {"x": {"datum": 7815, "type": "quantitative", "scale": {"domain": [7815, 7874], "range": [32, 290], "nice": false, "zero": false}, "axis": {"orient": "bottom", "offset": -34, "labels": false, "domain": false, "tickSize": -8, "tickCount": 6, "title": null}}, "x2": {"datum": 7874}, "y": {"datum": 0, "type": "quantitative", "scale": {"domain": [0, 271], "range": [329, 36], "nice": false, "zero": false}, "axis": {"orient": "left", "offset": -32, "labels": false, "domain": false, "tickSize": -8, "tickCount": 6, "title": null}}, "y2": {"datum": 271}}},
{"data": {"name": "b11"}, "mark": {"type": "line", "interpolate": "step-after", "color": "black", "strokeWidth": 1.3}, "encoding": {"x": {"field": "x", "type": "quantitative", "axis": {"orient": "bottom", "offset": -34, "labels": false, "domain": false, "tickSize": -4, "tickCount": 30, "title": null}}, "y": {"field": "c", "type": "quantitative", "axis": {"orient": "left", "offset": -32, "labels": false, "domain": false, "tickSize": -4, "tickCount": 30, "title": null}}}},
{"mark": {"type": "point", "shape": "triangle-down", "filled": true, "color": "#ff0000", "opacity": 1, "size": 120}, "encoding": {"x": {"field": "px", "type": "quantitative", "axis": {"orient": "bottom", "offset": -34, "ticks": false, "domain": false, "labelPadding": 2, "tickCount": 6, "format": "d", "title": null}}, "y": {"field": "py", "type": "quantitative", "axis": {"orient": "left", "offset": -32, "ticks": false, "domain": false, "labelPadding": 3, "tickCount": 6, "format": "d", "title": "×10³", "titleAngle": 0, "titleAlign": "left", "titleBaseline": "alphabetic", "titleX": -1, "titleY": 34}}}},
{"mark": {"type": "rect", "x": 5, "x2": 105, "y": 6, "y2": 23, "color": "black"}},
{"mark": {"type": "rect", "x": 3, "x2": 103, "y": 4, "y2": 21, "fill": "#f4f4f4", "stroke": "black", "strokeWidth": 1}},
{"mark": {"type": "text", "x": 9.5, "y": 16.5, "style": "ttl"}, "encoding": {"text": {"field": "name"}}},
{"mark": {"type": "rect", "x": 253, "x2": 317, "y": 4, "y2": 105, "color": "black"}},
{"mark": {"type": "rect", "x": 251, "x2": 315, "y": 2, "y2": 103, "fill": "#f4f4f4", "stroke": "black", "strokeWidth": 1}},
{"mark": {"type": "rule", "x": 251, "x2": 315, "y": 27, "y2": 27, "color": "black", "strokeWidth": 1}, "encoding": {}},
{"mark": {"type": "text", "x": 283, "y": 16.5, "style": "sth", "fontSize": 8.3}, "encoding": {"text": {"field": "name"}}},
{"mark": {"type": "text", "x": 253.5, "y": 42, "style": "stl", "text": ["Entries", "Mean", "RMS"]}},
{"mark": {"type": "text", "x": 313, "y": 42, "style": "stv"}, "encoding": {"text": {"field": "entries"}}},
{"mark": {"type": "text", "x": 313, "y": 67.3, "style": "stv"}, "encoding": {"text": {"field": "mean"}}},
{"mark": {"type": "text", "x": 313, "y": 92.6, "style": "stv"}, "encoding": {"text": {"field": "rms"}}},
{"mark": {"type": "rect", "x": 0, "x2": 321, "y": 361, "y2": 363, "color": "#a3a3a3"}},
{"mark": {"type": "rect", "x": 319, "x2": 321, "y": 0, "y2": 363, "color": "#a3a3a3"}}
], "resolve": {"axis": {"x": "independent", "y": "independent"}}},
{"width": 321, "height": 363, "view": {"fill": "#f2f2f2", "stroke": null}, "data": {"name": "s12"}, "layer": [
{"mark": {"type": "rect", "filled": false, "color": "black", "strokeWidth": 1.2}, "encoding": {"x": {"datum": 7716, "type": "quantitative", "scale": {"domain": [7716, 7775], "range": [32, 290], "nice": false, "zero": false}, "axis": {"orient": "bottom", "offset": -34, "labels": false, "domain": false, "tickSize": -8, "tickCount": 6, "title": null}}, "x2": {"datum": 7775}, "y": {"datum": 0, "type": "quantitative", "scale": {"domain": [0, 319], "range": [329, 36], "nice": false, "zero": false}, "axis": {"orient": "left", "offset": -32, "labels": false, "domain": false, "tickSize": -8, "tickCount": 6, "title": null}}, "y2": {"datum": 319}}},
{"data": {"name": "b12"}, "mark": {"type": "line", "interpolate": "step-after", "color": "black", "strokeWidth": 1.3}, "encoding": {"x": {"field": "x", "type": "quantitative", "axis": {"orient": "bottom", "offset": -34, "labels": false, "domain": false, "tickSize": -4, "tickCount": 30, "title": null}}, "y": {"field": "c", "type": "quantitative", "axis": {"orient": "left", "offset": -32, "labels": false, "domain": false, "tickSize": -4, "tickCount": 30, "title": null}}}},
{"mark": {"type": "point", "shape": "triangle-down", "filled": true, "color": "#ff0000", "opacity": 1, "size": 120}, "encoding": {"x": {"field": "px", "type": "quantitative", "axis": {"orient": "bottom", "offset": -34, "ticks": false, "domain": false, "labelPadding": 2, "tickCount": 6, "format": "d", "title": null}}, "y": {"field": "py", "type": "quantitative", "axis": {"orient": "left", "offset": -32, "ticks": false, "domain": false, "labelPadding": 3, "tickCount": 6, "format": "d", "title": "×10³", "titleAngle": 0, "titleAlign": "left", "titleBaseline": "alphabetic", "titleX": -1, "titleY": 34}}}},
{"mark": {"type": "rect", "x": 5, "x2": 105, "y": 6, "y2": 23, "color": "black"}},
{"mark": {"type": "rect", "x": 3, "x2": 103, "y": 4, "y2": 21, "fill": "#f4f4f4", "stroke": "black", "strokeWidth": 1}},
{"mark": {"type": "text", "x": 9.5, "y": 16.5, "style": "ttl"}, "encoding": {"text": {"field": "name"}}},
{"mark": {"type": "rect", "x": 253, "x2": 317, "y": 4, "y2": 105, "color": "black"}},
{"mark": {"type": "rect", "x": 251, "x2": 315, "y": 2, "y2": 103, "fill": "#f4f4f4", "stroke": "black", "strokeWidth": 1}},
{"mark": {"type": "rule", "x": 251, "x2": 315, "y": 27, "y2": 27, "color": "black", "strokeWidth": 1}, "encoding": {}},
{"mark": {"type": "text", "x": 283, "y": 16.5, "style": "sth", "fontSize": 8.3}, "encoding": {"text": {"field": "name"}}},
{"mark": {"type": "text", "x": 253.5, "y": 42, "style": "stl", "text": ["Entries", "Mean", "RMS"]}},
{"mark": {"type": "text", "x": 313, "y": 42, "style": "stv"}, "encoding": {"text": {"field": "entries"}}},
{"mark": {"type": "text", "x": 313, "y": 67.3, "style": "stv"}, "encoding": {"text": {"field": "mean"}}},
{"mark": {"type": "text", "x": 313, "y": 92.6, "style": "stv"}, "encoding": {"text": {"field": "rms"}}},
{"mark": {"type": "rect", "x": 0, "x2": 321, "y": 361, "y2": 363, "color": "#a3a3a3"}},
{"mark": {"type": "rect", "x": 319, "x2": 321, "y": 0, "y2": 363, "color": "#a3a3a3"}}
], "resolve": {"axis": {"x": "independent", "y": "independent"}}}
], "spacing": 29}
],
"spacing": 26,
"config": {
"view": {"fill": "#f2f2f2", "stroke": null},
"axis": {"labelFont": "Liberation Sans", "labelFontSize": 12.5, "labelFontWeight": "bold", "labelColor": "black", "tickColor": "black", "tickWidth": 1, "grid": false, "labelFlush": false, "labelOverlap": false, "titleFont": "Liberation Sans", "titleColor": "black", "titleFontWeight": "normal", "titleFontSize": 11.5, "titlePadding": 0},
"style": {
"cell": {"fill": "#f2f2f2", "stroke": null},
"ttl": {"font": "Liberation Sans", "fontWeight": "bold", "fontSize": 13, "align": "left", "baseline": "alphabetic", "fill": "black"},
"sth": {"font": "Liberation Sans", "fontWeight": "bold", "fontSize": 9, "align": "center", "baseline": "alphabetic", "fill": "black"},
"stl": {"font": "Liberation Sans", "fontWeight": "bold", "fontSize": 8.5, "align": "left", "baseline": "alphabetic", "lineHeight": 25.3, "fill": "black"},
"stv": {"font": "Liberation Sans", "fontWeight": "bold", "fontSize": 8.5, "align": "right", "baseline": "alphabetic", "fill": "black"}
}
}
}
